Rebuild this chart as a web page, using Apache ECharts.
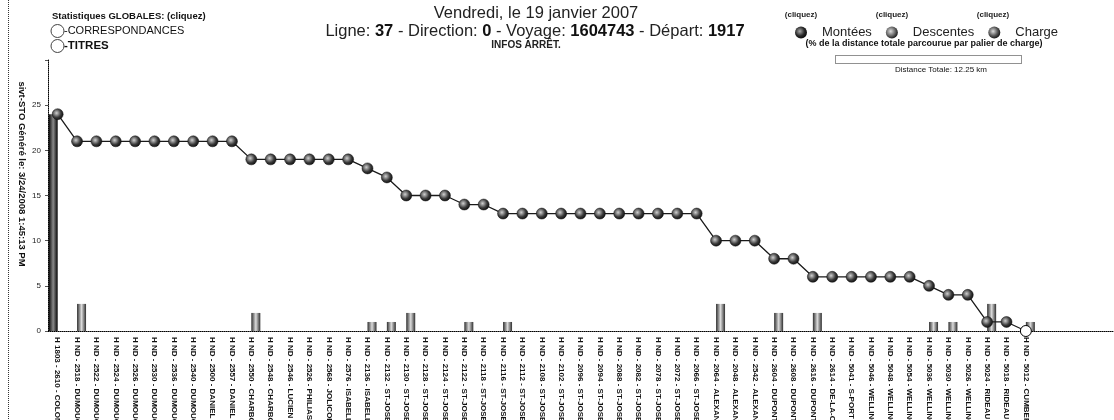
<!DOCTYPE html>
<html>
<head>
<meta charset="utf-8">
<script src="https://cdn.jsdelivr.net/npm/echarts@6/dist/echarts.min.js"></script>
<style>
  html, body { margin: 0; padding: 0; background: #fff; }
  #chart { width: 1114px; height: 420px; }
</style>
</head>
<body>
<div id="chart"></div>
<script>
// Arrêts du voyage (dans l'ordre du parcours)
const stops = [
  "H 1803 - 2610 - COLONEL-BY",
  "H ND - 2518 - DUMOUCHEL", "H ND - 2522 - DUMOUCHEL", "H ND - 2524 - DUMOUCHEL",
  "H ND - 2526 - DUMOUCHEL", "H ND - 2530 - DUMOUCHEL", "H ND - 2536 - DUMOUCHEL",
  "H ND - 2540 - DUMOUCHEL", "H ND - 2500 - DANIEL", "H ND - 2557 - DANIEL",
  "H ND - 2550 - CHARBONNEAU", "H ND - 2548 - CHARBONNEAU", "H ND - 2546 - LUCIEN",
  "H ND - 2526 - PHILIAS", "H ND - 2568 - JOLICOEUR", "H ND - 2576 - ISABELLE",
  "H ND - 2136 - ISABELLE", "H ND - 2132 - ST-JOSEPH", "H ND - 2130 - ST-JOSEPH",
  "H ND - 2128 - ST-JOSEPH", "H ND - 2124 - ST-JOSEPH", "H ND - 2122 - ST-JOSEPH",
  "H ND - 2118 - ST-JOSEPH", "H ND - 2116 - ST-JOSEPH", "H ND - 2112 - ST-JOSEPH",
  "H ND - 2108 - ST-JOSEPH", "H ND - 2102 - ST-JOSEPH", "H ND - 2096 - ST-JOSEPH",
  "H ND - 2094 - ST-JOSEPH", "H ND - 2088 - ST-JOSEPH", "H ND - 2082 - ST-JOSEPH",
  "H ND - 2078 - ST-JOSEPH", "H ND - 2072 - ST-JOSEPH", "H ND - 2066 - ST-JOSEPH",
  "H ND - 2064 - ALEXANDRE", "H ND - 2048 - ALEXANDRE", "H ND - 2542 - ALEXANDRE",
  "H ND - 2604 - DUPONT", "H ND - 2608 - DUPONT", "H ND - 2616 - DUPONT",
  "H ND - 2614 - DE-LA-CITÉ", "H ND - 5041 - S-PORT", "H ND - 5046 - WELLINGTON",
  "H ND - 5048 - WELLINGTON", "H ND - 5054 - WELLINGTON", "H ND - 5036 - WELLINGTON",
  "H ND - 5030 - WELLINGTON", "H ND - 5026 - WELLINGTON", "H ND - 5024 - RIDEAU",
  "H ND - 5018 - RIDEAU", "H ND - 5012 - CUMBERLAND"
];

// Montées (embarquements) par arrêt
const montees = [
  24, 0, 0, 0, 0, 0, 0, 0, 0, 0,
  0, 0, 0, 0, 0, 0, 0, 0, 0, 0,
  0, 0, 0, 0, 0, 0, 0, 0, 0, 0,
  0, 0, 0, 0, 0, 0, 0, 0, 0, 0,
  0, 0, 0, 0, 0, 0, 0, 0, 0, 0,
  0
];

// Descentes par arrêt
const descentes = [
  0, 3, 0, 0, 0, 0, 0, 0, 0, 0,
  2, 0, 0, 0, 0, 0, 1, 1, 2, 0,
  0, 1, 0, 1, 0, 0, 0, 0, 0, 0,
  0, 0, 0, 0, 3, 0, 0, 2, 0, 2,
  0, 0, 0, 0, 0, 1, 1, 0, 3, 0,
  1
];

// Charge à bord après chaque arrêt
const charge = [
  24, 21, 21, 21, 21, 21, 21, 21, 21, 21,
  19, 19, 19, 19, 19, 19, 18, 17, 15, 15,
  15, 14, 14, 13, 13, 13, 13, 13, 13, 13,
  13, 13, 13, 13, 10, 10, 10, 8, 8, 6,
  6, 6, 6, 6, 6, 5, 4, 4, 1, 1,
  0
];

const yTicks = [0, 5, 10, 15, 20, 25];

const FONT = '"Liberation Sans", Arial, sans-serif';

function ball(light, dark) {
  return {
    type: 'radial', x: 0.4, y: 0.4, r: 0.7,
    colorStops: [
      { offset: 0, color: light },
      { offset: 0.55, color: dark },
      { offset: 1, color: '#000' }
    ]
  };
}
function band(edge, mid) {
  return {
    type: 'linear', x: 0, y: 0, x2: 1, y2: 0,
    colorStops: [
      { offset: 0, color: edge },
      { offset: 0.5, color: mid },
      { offset: 1, color: edge }
    ]
  };
}

const chart = echarts.init(document.getElementById('chart'), null, { renderer: 'canvas' });

const chargeData = charge.map(v => v === 0
  ? { value: v, itemStyle: { color: '#fff', borderColor: '#000', borderWidth: 1 } }
  : v);

chart.setOption({
  animation: false,
  backgroundColor: '#fff',
  textStyle: { fontFamily: FONT },
  grid: { left: 48, right: 1, top: 60, bottom: 89, containLabel: false, outerBoundsMode: 'none' },
  legend: {
    left: 795, top: 26, padding: 0,
    itemWidth: 12, itemHeight: 12, itemGap: 14,
    selectedMode: false,
    formatter: name => '{g|}' + name,
    textStyle: {
      fontFamily: FONT, fontSize: 13, color: '#222',
      rich: { g: { width: 10 } }
    },
    data: [
      { name: 'Montées', icon: 'circle', itemStyle: { color: ball('#aaa', '#2a2a2a'), borderWidth: 0 } },
      { name: 'Descentes', icon: 'circle', itemStyle: { color: ball('#ddd', '#666'), borderWidth: 0 } },
      { name: 'Charge', icon: 'circle', itemStyle: { color: ball('#ddd', '#555'), borderWidth: 0 } }
    ]
  },
  xAxis: {
    type: 'category',
    data: stops,
    max: 54,
    boundaryGap: true,
    axisLine: { show: true, lineStyle: { color: '#000', type: 'dotted', width: 1 } },
    axisTick: { show: false },
    axisLabel: {
      interval: 0,
      rotate: -90,
      margin: 6,
      fontSize: 8,
      fontWeight: 'bold',
      color: '#111',
      fontFamily: FONT,
      formatter: (v, i) => (i < stops.length ? v : '')
    }
  },
  yAxis: {
    type: 'value',
    min: 0, max: 30, interval: 5,
    axisLine: { show: true, lineStyle: { color: '#000', type: 'dotted', width: 1 } },
    axisTick: { show: true, length: 3, lineStyle: { color: '#555' } },
    splitLine: { show: false },
    axisLabel: {
      fontSize: 8, color: '#222', margin: 7, fontFamily: FONT,
      formatter: v => (yTicks.indexOf(v) >= 0 ? String(v) : '')
    }
  },
  series: [
    {
      name: 'Montées', type: 'bar', data: montees,
      barWidth: 9, barGap: '0%',
      itemStyle: { color: band('#030303', '#8a8a8a') }
    },
    {
      name: 'Descentes', type: 'bar', data: descentes,
      barWidth: 9,
      itemStyle: { color: band('#2e2e2e', '#dcdcdc') }
    },
    {
      name: 'Charge', type: 'line', data: chargeData,
      symbol: 'circle', symbolSize: 11, showAllSymbol: true,
      z: 5,
      lineStyle: { color: '#1a1a1a', width: 1.3 },
      itemStyle: { color: ball('#d0d0d0', '#3a3a3a'), borderColor: '#111', borderWidth: 0.5 }
    }
  ],
  graphic: [
    // bordure gauche de la page
    { type: 'line', shape: { x1: 8.5, y1: 0, x2: 8.5, y2: 420 },
      style: { stroke: '#333', lineWidth: 1, lineDash: [1, 1] } },
    // titre
    { type: 'text', x: 536, y: 13,
      style: { text: 'Vendredi, le 19 janvier 2007', font: '16.5px ' + FONT, fill: '#222',
               align: 'center', verticalAlign: 'middle' } },
    { type: 'text', x: 535, y: 31,
      style: {
        text: '{n|Ligne: }{b|37}{n| - Direction: }{b|0}{n| - Voyage: }{b|1604743}{n| - Départ: }{b|1917}',
        align: 'center', verticalAlign: 'middle',
        rich: {
          n: { font: '16.5px ' + FONT, fill: '#222' },
          b: { font: 'bold 16.5px ' + FONT, fill: '#111' }
        }
      } },
    { type: 'text', x: 526, y: 45,
      style: { text: 'INFOS ARRÊT.', font: 'bold 10px ' + FONT, fill: '#222',
               align: 'center', verticalAlign: 'middle' } },
    // statistiques globales
    { type: 'text', x: 52, y: 16,
      style: { text: 'Statistiques GLOBALES: (cliquez)', font: 'bold 9.5px ' + FONT, fill: '#111',
               verticalAlign: 'middle' } },
    { type: 'circle', shape: { cx: 57.5, cy: 31, r: 6.5 },
      style: { fill: '#fff', stroke: '#444', lineWidth: 1 } },
    { type: 'text', x: 64, y: 31,
      style: { text: '-CORRESPONDANCES', font: '11px ' + FONT, fill: '#111', verticalAlign: 'middle' } },
    { type: 'circle', shape: { cx: 57.5, cy: 46, r: 6.5 },
      style: { fill: '#fff', stroke: '#444', lineWidth: 1 } },
    { type: 'text', x: 64, y: 46,
      style: { text: '-TITRES', font: 'bold 11.5px ' + FONT, fill: '#111', verticalAlign: 'middle' } },
    // « (cliquez) » au-dessus de la légende
    { type: 'text', x: 801, y: 15,
      style: { text: '(cliquez)', font: 'bold 8px ' + FONT, fill: '#222', align: 'center', verticalAlign: 'middle' } },
    { type: 'text', x: 892, y: 15,
      style: { text: '(cliquez)', font: 'bold 8px ' + FONT, fill: '#222', align: 'center', verticalAlign: 'middle' } },
    { type: 'text', x: 993, y: 15,
      style: { text: '(cliquez)', font: 'bold 8px ' + FONT, fill: '#222', align: 'center', verticalAlign: 'middle' } },
    // distance parcourue par palier de charge
    { type: 'text', x: 924, y: 44,
      style: { text: '(% de la distance totale parcourue par palier de charge)', font: 'bold 9px ' + FONT,
               fill: '#111', align: 'center', verticalAlign: 'middle' } },
    { type: 'rect', shape: { x: 835.5, y: 55.5, width: 186, height: 8 },
      style: { fill: '#fff', stroke: '#222', lineWidth: 1, lineDash: [1, 1] } },
    { type: 'text', x: 941, y: 70,
      style: { text: 'Distance Totale: 12.25 km', font: '8px ' + FONT, fill: '#111',
               align: 'center', verticalAlign: 'middle' } },
    // horodatage de génération
    { type: 'text', x: 22, y: 174, rotation: -Math.PI / 2,
      style: { text: 'sivt-STO Généré le: 3/24/2008 1:45:13 PM', font: 'bold 9.5px ' + FONT, fill: '#111',
               align: 'center', verticalAlign: 'middle' } }
  ]
});
</script>
</body>
</html>
